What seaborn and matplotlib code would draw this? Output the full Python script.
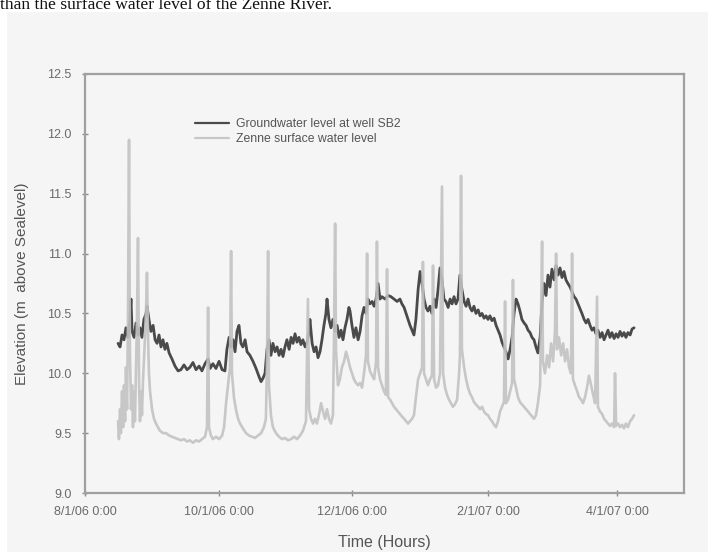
import matplotlib
matplotlib.use("Agg")
import matplotlib.pyplot as plt
import seaborn as sns
import pandas as pd
from matplotlib.patches import Rectangle

# ---------------- data (days since 8/1/06 0:00, elevation in m) ----------------
gw_days = [15.1, 16.0, 16.9, 17.8, 18.7, 19.6, 20.5, 21.0, 21.5, 22.4, 23.3, 24.2, 25.1, 26.0,
           26.9, 27.9, 28.3, 29.2, 30.1, 31.1, 32.0, 32.9, 33.8, 34.7, 35.6, 36.5, 37.4, 38.4,
           39.7, 41.1, 42.5, 43.8, 45.2, 46.6, 47.9, 49.3, 50.7, 52.1, 53.4, 54.8, 56.2, 57.1,
           58.4, 59.8, 61.2, 62.6, 63.9, 64.8, 65.8, 66.7, 67.6, 68.5, 69.4, 70.3, 71.2, 72.1,
           73.1, 74.0, 75.3, 76.7, 78.1, 79.5, 80.4, 81.3, 82.2, 83.1, 84.0, 84.9, 85.8, 86.8,
           87.7, 88.6, 89.5, 90.4, 91.3, 92.2, 93.2, 94.1, 95.0, 95.9, 96.8, 97.7, 98.6, 99.5,
           100.5, 101.4, 102.3, 102.7, 103.7, 104.6, 105.5, 106.4, 107.3, 108.2, 109.1, 110.0,
           110.5, 111.4, 112.3, 113.2, 114.2, 115.1, 116.0, 116.9, 117.8, 118.7, 119.6, 120.5,
           121.0, 121.9, 122.8, 123.7, 124.7, 125.6, 126.5, 127.4, 128.3, 129.2, 130.1, 131.1,
           132.0, 132.9, 133.8, 134.7, 135.6, 137.0, 138.4, 139.7, 141.1, 142.5, 143.8, 144.7,
           145.7, 146.6, 147.5, 148.4, 149.3, 150.2, 151.1, 152.1, 153.0, 153.9, 154.8, 155.7,
           156.6, 157.5, 158.4, 159.4, 160.3, 161.2, 162.1, 163.0, 163.9, 164.8, 165.8, 166.7,
           167.6, 168.5, 169.4, 170.3, 171.2, 172.1, 173.1, 174.0, 174.9, 175.8, 176.7, 177.6,
           178.5, 179.5, 180.4, 181.3, 182.2, 183.1, 184.0, 184.9, 185.8, 186.8, 187.7, 188.6,
           189.5, 190.4, 191.3, 192.2, 193.2, 194.1, 195.0, 195.9, 196.8, 197.7, 198.6, 199.5,
           200.5, 201.4, 202.3, 203.2, 204.1, 205.0, 205.9, 206.8, 207.8, 208.7, 209.6, 210.5,
           211.4, 212.3, 213.2, 214.2, 215.1, 216.0, 216.9, 217.8, 218.7, 219.6, 220.5, 221.5,
           222.4, 223.3, 224.2, 225.1, 226.0, 226.9, 227.9, 228.8, 229.7, 230.6, 231.5, 232.4,
           233.3, 234.2, 235.2, 236.1, 237.0, 237.9, 238.8, 239.7, 240.6, 241.6, 242.5, 243.4,
           244.3, 245.2, 246.1, 247.0, 247.9, 248.9, 249.8, 250.7]
gw_level = [10.25, 10.22, 10.32, 10.28, 10.38, 10.30, 10.45, 10.62, 10.35, 10.30, 10.42, 10.32,
            10.38, 10.30, 10.45, 10.50, 10.56, 10.45, 10.35, 10.40, 10.28, 10.25, 10.32, 10.22,
            10.28, 10.20, 10.25, 10.17, 10.12, 10.06, 10.02, 10.03, 10.07, 10.03, 10.05, 10.09,
            10.03, 10.06, 10.02, 10.08, 10.12, 10.04, 10.08, 10.04, 10.10, 10.03, 10.02, 10.20,
            10.30, 10.22, 10.28, 10.18, 10.35, 10.40, 10.25, 10.22, 10.28, 10.18, 10.15, 10.10,
            10.04, 9.97, 9.93, 9.96, 10.00, 10.20, 10.28, 10.15, 10.25, 10.18, 10.22, 10.15,
            10.20, 10.14, 10.22, 10.28, 10.20, 10.30, 10.25, 10.33, 10.26, 10.30, 10.24, 10.28,
            10.22, 10.26, 10.35, 10.45, 10.25, 10.18, 10.22, 10.13, 10.18, 10.28, 10.40, 10.50,
            10.62, 10.45, 10.38, 10.45, 10.35, 10.40, 10.30, 10.36, 10.28, 10.38, 10.45, 10.55,
            10.52, 10.40, 10.30, 10.38, 10.28, 10.35, 10.48, 10.55, 10.50, 10.62, 10.58, 10.60,
            10.56, 10.62, 10.75, 10.62, 10.64, 10.62, 10.65, 10.64, 10.62, 10.60, 10.62, 10.58,
            10.55, 10.50, 10.45, 10.40, 10.36, 10.32, 10.45, 10.70, 10.85, 10.75, 10.62, 10.55,
            10.52, 10.56, 10.50, 10.62, 10.55, 10.70, 10.88, 10.78, 10.62, 10.60, 10.55, 10.62,
            10.58, 10.64, 10.58, 10.62, 10.82, 10.70, 10.60, 10.56, 10.62, 10.55, 10.52, 10.56,
            10.50, 10.53, 10.48, 10.50, 10.46, 10.48, 10.45, 10.48, 10.44, 10.46, 10.40, 10.36,
            10.32, 10.26, 10.22, 10.18, 10.12, 10.20, 10.30, 10.50, 10.62, 10.58, 10.52, 10.45,
            10.42, 10.40, 10.36, 10.34, 10.30, 10.28, 10.22, 10.17, 10.30, 10.60, 10.75, 10.65,
            10.82, 10.72, 10.87, 10.78, 10.90, 10.82, 10.88, 10.80, 10.85, 10.78, 10.75, 10.72,
            10.68, 10.64, 10.62, 10.58, 10.54, 10.50, 10.45, 10.42, 10.45, 10.40, 10.36, 10.38,
            10.33, 10.36, 10.30, 10.34, 10.28, 10.32, 10.36, 10.30, 10.34, 10.29, 10.33, 10.30,
            10.35, 10.31, 10.34, 10.30, 10.34, 10.32, 10.37, 10.38]

sw_days = [15.1, 15.5, 16.0, 16.4, 16.9, 17.4, 17.8, 18.3, 18.7, 19.2, 19.6, 20.1, 20.5, 21.0,
           21.5, 21.9, 22.4, 22.8, 23.3, 23.7, 24.2, 24.7, 25.1, 25.6, 26.0, 26.5, 26.9, 27.4,
           27.9, 28.3, 28.8, 29.2, 29.7, 30.6, 31.5, 32.4, 33.3, 34.2, 35.6, 37.0, 38.4, 39.7,
           41.1, 42.5, 43.8, 45.2, 46.6, 47.9, 49.3, 50.7, 52.1, 53.4, 54.8, 55.7, 56.2, 56.6,
           57.5, 58.4, 59.8, 61.2, 62.6, 63.5, 64.4, 65.3, 66.2, 66.7, 67.1, 68.0, 68.9, 69.9,
           70.8, 72.1, 73.5, 74.9, 76.3, 77.6, 79.0, 80.4, 81.7, 82.6, 83.1, 83.6, 84.0, 84.9,
           85.8, 87.2, 88.6, 90.0, 91.3, 92.7, 94.1, 95.4, 96.8, 98.2, 99.5, 100.9, 101.8, 102.3,
           103.2, 104.1, 105.0, 105.9, 106.8, 107.8, 108.7, 109.6, 110.5, 111.4, 112.3, 113.2,
           113.7, 114.2, 114.6, 115.5, 116.4, 117.3, 118.3, 119.2, 120.1, 121.0, 121.9, 122.8,
           123.7, 124.7, 125.6, 126.5, 127.4, 128.3, 128.8, 129.2, 130.1, 131.1, 132.0, 132.9,
           133.3, 133.8, 134.7, 135.6, 136.5, 137.4, 137.9, 138.4, 139.3, 140.2, 141.1, 142.0,
           142.9, 143.8, 144.7, 145.7, 146.6, 147.5, 148.4, 149.3, 150.2, 151.1, 152.1, 153.0,
           153.9, 154.3, 154.8, 155.7, 156.6, 157.5, 158.4, 158.9, 159.4, 160.3, 161.2, 162.1,
           163.0, 163.5, 164.4, 165.3, 166.2, 167.1, 168.0, 168.9, 169.9, 170.8, 171.2, 171.7,
           172.1, 173.1, 174.0, 174.9, 175.8, 176.7, 177.6, 178.5, 179.5, 180.4, 181.3, 182.2,
           183.1, 184.0, 184.9, 185.8, 186.8, 187.7, 188.6, 189.5, 190.4, 191.3, 191.8, 192.2,
           193.2, 194.1, 195.0, 195.4, 195.9, 196.8, 197.7, 198.6, 199.5, 200.5, 201.4, 202.3,
           203.2, 204.1, 205.0, 205.9, 206.8, 207.8, 208.7, 209.1, 210.0, 211.0, 211.9, 212.8,
           213.7, 214.6, 215.1, 215.5, 216.4, 217.4, 218.3, 219.2, 220.1, 221.0, 221.9, 222.4,
           222.8, 223.7, 224.7, 225.6, 226.5, 227.4, 228.3, 229.2, 230.1, 231.1, 232.0, 232.9,
           233.8, 234.2, 235.2, 236.1, 237.0, 237.9, 238.8, 239.7, 240.6, 241.6, 242.0, 242.5,
           243.4, 244.3, 245.2, 246.1, 247.0, 247.9, 248.9, 249.8, 250.7]
sw_level = [9.60, 9.45, 9.70, 9.50, 9.85, 9.55, 9.90, 9.60, 10.05, 9.70, 10.40, 11.95, 10.20, 9.70,
            9.90, 9.55, 9.85, 9.60, 10.05, 10.40, 11.13, 9.90, 9.60, 9.85, 9.65, 9.95, 10.10, 10.30,
            10.55, 10.84, 10.30, 10.00, 9.85, 9.70, 9.62, 9.58, 9.55, 9.52, 9.50, 9.50, 9.48, 9.47,
            9.46, 9.45, 9.44, 9.45, 9.43, 9.44, 9.42, 9.44, 9.43, 9.45, 9.47, 9.55, 10.55, 9.55,
            9.48, 9.45, 9.47, 9.45, 9.48, 9.55, 9.75, 9.90, 10.05, 11.02, 10.00, 9.80, 9.70, 9.62,
            9.58, 9.54, 9.50, 9.48, 9.47, 9.46, 9.48, 9.50, 9.55, 9.62, 10.10, 11.02, 9.90, 9.65,
            9.55, 9.50, 9.47, 9.45, 9.46, 9.44, 9.45, 9.47, 9.45, 9.48, 9.52, 9.60, 10.62, 9.70,
            9.62, 9.58, 9.62, 9.58, 9.65, 9.75, 9.68, 9.62, 9.70, 9.62, 9.58, 9.65,
            10.30, 11.25, 10.20, 9.90, 9.95, 10.05, 10.10, 10.18, 10.12, 10.05, 10.00, 9.95,
            9.92, 9.90, 9.92, 9.88, 10.00, 10.15, 11.00, 10.10, 10.02, 9.98, 9.95, 10.10,
            11.10, 10.05, 9.95, 9.90, 9.85, 9.82, 10.87, 9.80, 9.78, 9.75, 9.72, 9.70,
            9.68, 9.66, 9.64, 9.62, 9.60, 9.58, 9.60, 9.62, 9.65, 9.80, 9.95, 10.00,
            10.05, 10.93, 10.00, 9.95, 9.90, 9.95, 9.98, 10.90, 9.95, 9.88, 9.90, 10.00,
            11.56, 10.00, 9.88, 9.82, 9.78, 9.75, 9.72, 9.74, 9.78, 10.00, 10.15, 11.65,
            10.20, 10.05, 9.95, 9.88, 9.83, 9.80, 9.76, 9.74, 9.72, 9.70, 9.72, 9.68,
            9.66, 9.65, 9.62, 9.60, 9.57, 9.55, 9.60, 9.68, 9.72, 9.76, 10.60, 9.75,
            9.78, 9.85, 9.92, 10.78, 9.95, 9.88, 9.80, 9.76, 9.74, 9.72, 9.70, 9.68,
            9.66, 9.64, 9.62, 9.65, 9.75, 9.90, 11.10, 10.10, 10.00, 10.15, 10.05, 10.25,
            10.10, 10.35, 11.00, 10.20, 10.30, 10.15, 10.25, 10.10, 10.20, 10.05, 10.00, 11.00,
            9.95, 9.90, 9.85, 9.80, 9.78, 9.75, 9.80, 9.88, 9.98, 9.90, 9.82, 9.75,
            10.64, 9.72, 9.68, 9.66, 9.62, 9.60, 9.58, 9.56, 9.58, 9.55, 10.00, 9.56,
            9.58, 9.55, 9.57, 9.54, 9.58, 9.55, 9.60, 9.62, 9.65]

series_names = ["Groundwater level at well SB2", "Zenne surface water level"]
tick_days = [0, 61, 122, 184, 243]
tick_labels = ["8/1/06 0:00", "10/1/06 0:00", "12/1/06 0:00", "2/1/07 0:00", "4/1/07 0:00"]
y_ticks = [9.0, 9.5, 10.0, 10.5, 11.0, 11.5, 12.0, 12.5]

df = pd.concat([
    pd.DataFrame({"day": gw_days, "level": gw_level, "series": series_names[0]}),
    pd.DataFrame({"day": sw_days, "level": sw_level, "series": series_names[1]}),
], ignore_index=True)

# ---------------- figure ----------------
sns.set_style("white")
plt.rcParams["font.family"] = ["Liberation Sans", "DejaVu Sans"]

W, H = 708, 552
fig = plt.figure(figsize=(W / 100, H / 100), dpi=100, facecolor="white")
panel_bg = "#f5f5f5"
bg = Rectangle((7 / W, 0), 1 - 7 / W, 1 - 12 / H, transform=fig.transFigure,
               facecolor=panel_bg, edgecolor="none", zorder=-10)
fig.add_artist(bg)
fig.text(0.0, 1 - 9 / H, "than the surface water level of the Zenne River.",
         fontfamily=["Liberation Serif", "DejaVu Serif"], fontsize=12.6, color="#111111",
         ha="left", va="baseline", zorder=5)

left, right, top, bottom = 85, 684, 74, 493
ax = fig.add_axes([left / W, 1 - bottom / H, (right - left) / W, (bottom - top) / H])
ax.set_facecolor(panel_bg)

palette = {series_names[0]: "#4a4a4a", series_names[1]: "#c2c2c2"}
sns.lineplot(data=df[df.series == series_names[0]], x="day", y="level", hue="series",
             palette=palette, estimator=None, sort=False, linewidth=2.0, ax=ax, zorder=3)
sns.lineplot(data=df[df.series == series_names[1]], x="day", y="level", hue="series",
             palette=palette, estimator=None, sort=False, linewidth=1.9, ax=ax, zorder=4,
             alpha=0.9)

ax.set_xlim(0, 273.5)
ax.set_ylim(9.0, 12.5)
ax.set_xticks(tick_days)
ax.set_xticklabels(tick_labels)
ax.set_yticks(y_ticks)
ax.set_yticklabels([f"{v:.1f}" for v in y_ticks])
ax.tick_params(axis="both", which="major", bottom=True, left=True, direction="inout",
               length=5, width=1, color="#8a8a8a", labelcolor="#6a6a6a", labelsize=9)
ax.tick_params(axis="x", pad=7)
ax.tick_params(axis="y", pad=7)
for s in ax.spines.values():
    s.set_color("#a0a0a0")
    s.set_linewidth(1.6)

ax.set_xlabel("Time (Hours)", fontsize=11.5, color="#555555", labelpad=12)
ax.set_ylabel("Elevation (m  above Sealevel)", fontsize=11, color="#555555", labelpad=13)

handles, labels = ax.get_legend_handles_labels()
leg = ax.legend(handles[:2], labels[:2], loc="upper left",
                bbox_to_anchor=((190 - left) / (right - left), 1 - (113 - top) / (bottom - top)),
                frameon=False, fontsize=8.8, handlelength=2.8, handletextpad=0.6,
                labelspacing=0.25, borderaxespad=0)
for t in leg.get_texts():
    t.set_color("#555555")
for l in leg.get_lines():
    l.set_linewidth(1.6)

fig.savefig("out.png", dpi=100, facecolor=fig.get_facecolor())
